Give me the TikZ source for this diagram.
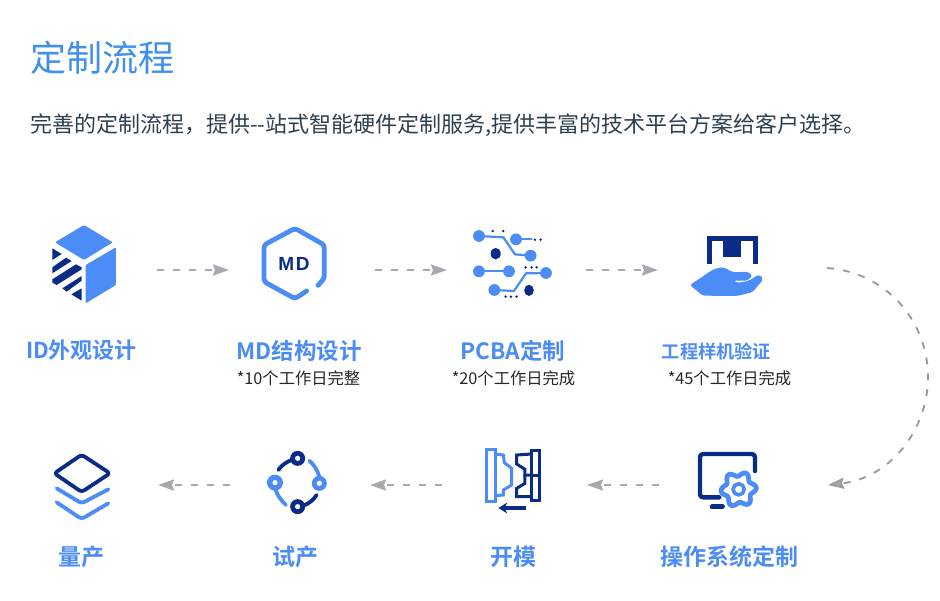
\documentclass[tikz,border=0pt]{standalone}
\usepackage{fontspec}
\setmainfont{Noto Sans CJK SC}[BoldFont={Noto Sans CJK SC Bold}]
\newfontfamily\mdfont{Liberation Sans}
\usetikzlibrary{arrows.meta}
\definecolor{lblue}{HTML}{4B8CF6}
\definecolor{navy}{HTML}{0B2C86}
\definecolor{ttl}{HTML}{3F8FEF}
\definecolor{sub}{HTML}{2E4050}
\definecolor{agray}{HTML}{A6A9AD}
\tikzset{
  flow/.style={draw=agray,line width=2.3pt,dash pattern=on 7pt off 9pt,-{Stealth[length=16pt,width=11pt,inset=2pt,fill=agray]}},
  curveflow/.style={draw=agray!92!black,line width=1.9pt,dash pattern=on 7pt off 9pt,-{Stealth[length=16pt,width=11pt,inset=2pt,fill=agray]}},
  lab/.style={inner sep=0pt,anchor=center,text=lblue,font=\fontsize{22.5}{23}\selectfont\bfseries},
  lab2/.style={inner sep=0pt,anchor=center,text=lblue,font=\fontsize{23}{23}\selectfont\bfseries},
  note/.style={inner sep=0pt,anchor=center,text=black!85,font=\fontsize{16.3}{16}\selectfont},
  bl/.style={draw=lblue,line cap=round,line join=round},
  nv/.style={draw=navy,line cap=round,line join=round},
}
\begin{document}
\begin{tikzpicture}[x=1pt,y=-1pt]
\useasboundingbox (0,0) rectangle (940,600);
\node[inner sep=0pt,anchor=west,text=ttl,font=\fontsize{36}{36}\selectfont] (title) at (30,58) {定制流程};
\node[inner sep=0pt,anchor=west,text=sub,font=\fontsize{22}{22}\selectfont] (subtitle) at (30,125) {完善的定制流程，提供-{}-站式智能硬件定制服务,提供丰富的技术平台方案给客户选择。};

% labels
\node[inner sep=0pt,text=lblue,font=\fontsize{22}{23}\selectfont\bfseries] (l1) at (81.5,350) {ID外观设计};
\node[lab] (l2) at (299,351) {MD结构设计};
\node[note] (n2) at (298.5,378) {*10个工作日完整};
\node[lab] (l3) at (513,351) {PCBA定制};
\node[note] (n3) at (513.5,378) {*20个工作日完成};
\node[inner sep=0pt,text=lblue,font=\fontsize{18.2}{19}\selectfont\bfseries] (l4) at (716.5,351) {工程样机验证};
\node[note] (n4) at (729.5,378) {*45个工作日完成};
\node[lab2] (l5) at (729.5,557) {操作系统定制};
\node[lab2] (l6) at (513,557) {开模};
\node[lab2] (l7) at (295,557) {试产};
\node[lab2] (l8) at (81,557) {量产};

% connectors
\coordinate (a1s) at (157,270); \coordinate (a1e) at (229,270);
\coordinate (a2s) at (375,270); \coordinate (a2e) at (447,270);
\coordinate (a3s) at (586,270); \coordinate (a3e) at (658,270);
\coordinate (c1) at (827,268); \coordinate (c2) at (928,377); \coordinate (c3) at (828,485);
\coordinate (b1s) at (659,485); \coordinate (b1e) at (587,485);
\coordinate (b2s) at (442,485); \coordinate (b2e) at (370,485);
\coordinate (b3s) at (230,485); \coordinate (b3e) at (158,485);
\draw[flow] (a1s) -- (a1e);
\draw[flow] (a2s) -- (a2e);
\draw[flow] (a3s) -- (a3e);
\draw[flow] (b1s) -- (b1e);
\draw[flow] (b2s) -- (b2e);
\draw[flow] (b3s) -- (b3e);
\draw[curveflow] (c1) .. controls (885,272) and (928,320) .. (c2) .. controls (928,430) and (890,478) .. (c3);

% icons 1-2
\begin{scope}[shift={(30,210)},x=.3333pt,y=-.3333pt]
  \fill[lblue,rounded corners=1pt] (162,45) -- (248,97) -- (162,150) -- (75,97) -- cycle;
  \fill[lblue,rounded corners=1pt] (258,112) -- (258,225) -- (167,280) -- (167,165) -- cycle;
  \fill[navy] (67,115) -- (95,132) -- (67,150) -- cycle;
  \fill[navy] (67,172) -- (108,143) -- (125,153) -- (67,190) -- cycle;
  \fill[navy] (67,208) -- (138,163) -- (155,172) -- (155,178) -- (80,225) -- (67,218) -- cycle;
  \fill[navy] (97,235) -- (155,198) -- (155,212) -- (110,245) -- cycle;
  \fill[navy] (124,253) -- (155,235) -- (155,272) -- cycle;
  % MD
  \draw[bl,line width=4.8pt,rounded corners=3pt] (830,243) -- (795,266) -- (702,215) -- (702,105) -- (795,55) -- (883,105) -- (883,205) -- (864,226);
  \node[inner sep=0pt,text=navy,font=\mdfont\fontsize{19}{19}\selectfont\bfseries] (md) at (792,163) {M\kern1.5pt D};
\end{scope}

% icons 3-4
\begin{scope}[shift={(440,210)},x=.3333pt,y=-.3333pt]
  \draw[bl,line width=2.2pt] (117,78) -- (190,82) -- (225,133) -- (272,137);
  \draw[bl,line width=2.2pt] (228,88) -- (275,88);
  \draw[bl,line width=2.2pt] (117,184) -- (207,184);
  \draw[bl,line width=2.2pt] (163,240) -- (222,243) -- (258,190) -- (318,189);
  \foreach \p in {(117,78),(228,88),(272,137),(117,184),(207,184),(318,189),(163,240)}
    \fill[lblue] \p circle[radius=5.9pt];
  \fill[navy] (167,131) ellipse[x radius=5pt,y radius=5.8pt];
  \fill[navy] (267,241) ellipse[x radius=4.8pt,y radius=5.6pt];
  \foreach \p in {(158,63),(190,63),(285,89),(302,89),(257,172),(275,172),(290,172),(197,260),(213,260),(230,260)}
    \fill[navy] \p circle[radius=1.4pt];
  % box & hand
  \draw[nv,line cap=butt,line join=miter,line width=4.6pt] (808,163) -- (808,85) -- (946,85) -- (946,163);
  \fill[navy] (850,88) rectangle (904,142);
  \fill[lblue,rounded corners=2pt] (750,225) -- (820,178) -- (848,171) -- (880,187) -- (925,185) -- (937,198) -- (922,212) -- (882,212) -- (890,219) -- (925,213) -- (958,193) -- (970,208) -- (937,247) -- (890,258) -- (788,257) -- cycle;
\end{scope}

% bottom left icons
\begin{scope}[shift={(30,440)},x=.3333pt,y=-.3333pt]
  \draw[nv,line width=3.8pt,rounded corners=3pt] (155,44) -- (240,100) -- (155,156) -- (73,100) -- cycle;
  \draw[bl,line width=3.8pt,rounded corners=3pt] (80,145) -- (155,190) -- (235,148);
  \draw[bl,line width=3.8pt,rounded corners=3pt] (80,187) -- (155,237) -- (235,190);
  % cycle
  \draw[nv,line width=3.8pt] (745,90) .. controls (755,75) and (770,65) .. (790,58);
  \draw[bl,line width=3.8pt] (838,62) .. controls (853,75) and (862,90) .. (868,110);
  \draw[nv,line width=3.8pt] (860,165) .. controls (850,180) and (838,190) .. (820,197);
  \draw[bl,line width=3.8pt] (768,195) .. controls (752,180) and (742,165) .. (737,150);
  \fill[navy] (803,55) circle[radius=7.5pt]; \fill[white] (803,55) circle[radius=2.6pt];
  \fill[lblue] (868,130) circle[radius=7.5pt]; \fill[white] (868,130) circle[radius=2.6pt];
  \fill[navy] (803,200) circle[radius=7.5pt]; \fill[white] (803,200) circle[radius=2.6pt];
  \fill[lblue] (735,128) circle[radius=8pt]; \fill[white] (735,128) circle[radius=2.6pt];
\end{scope}

% bottom right icons
\begin{scope}[shift={(460,440)},x=.3333pt,y=-.3333pt]
  % mould
  \draw[draw=lblue,line width=3pt] (80,28) rectangle (105,185);
  \draw[draw=lblue,line width=3pt] (105,42) -- (130,45) -- (133,68) -- (155,85) -- (155,135) -- (130,150) -- (130,165) -- (105,167);
  \draw[draw=navy,line width=3pt] (215,30) rectangle (238,180);
  \draw[draw=navy,line width=3pt] (215,42) -- (170,45) -- (170,72) -- (195,88) -- (195,105) -- (215,105);
  \draw[draw=navy,line width=3pt] (215,170) -- (170,170) -- (170,145) -- (195,130) -- (195,105);
  \draw[draw=navy,line width=3pt] (215,105) -- (238,105);
  \draw[draw=navy,line width=3.4pt,-{Stealth[length=9pt,width=11pt]}] (198,204) -- (115,204);
  % monitor
  \draw[nv,line width=4.4pt,rounded corners=3pt] (885,93) -- (885,42) -- (720,42) -- (720,172) -- (778,172);
  \draw[nv,line width=4.4pt] (756,200) -- (788,200);
  \begin{scope}[shift={(836,148)}]
    \draw[bl,line width=4.8pt,fill=white] plot[domain=0:360,samples=121,smooth] ({(46+7*cos(6*\x+30))*cos(\x)},{(46+7*cos(6*\x+30))*sin(\x)}) -- cycle;
    \draw[bl,line width=3.6pt] (0,0) circle[radius=5.6pt];
  \end{scope}
\end{scope}
\end{tikzpicture}
\end{document}
